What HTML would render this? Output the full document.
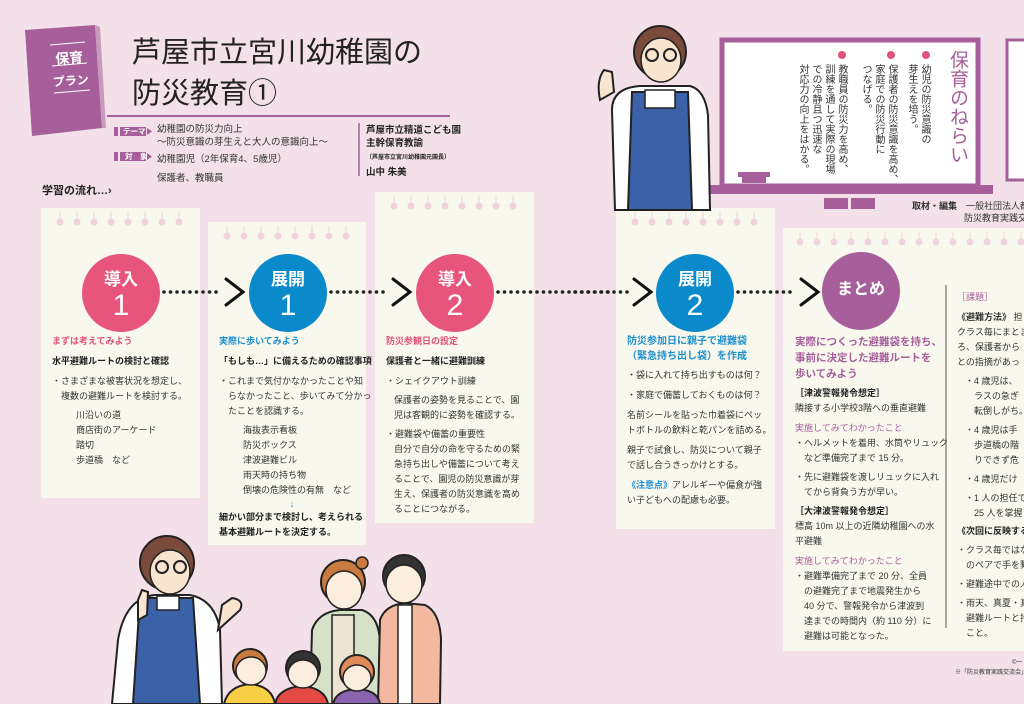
<!DOCTYPE html>
<html><head><meta charset="utf-8">
<style>
*{margin:0;padding:0;box-sizing:border-box}
body{width:1024px;height:704px;overflow:hidden;background:#f3e0e8;font-family:"Liberation Sans","Noto Sans CJK JP",sans-serif;color:#222;position:relative}
.a{position:absolute}
.t{font-size:9px;line-height:15px;color:#333;white-space:nowrap}
.b{font-weight:bold;color:#222}
.pk{color:#e0527a;font-weight:bold}
.bl{color:#1f8fce;font-weight:bold}
.pu{color:#a65f9a;font-weight:bold}
svg{position:absolute;left:0;top:0}
.circ{position:absolute;border-radius:50%;color:#fff;text-align:center}
.circ .l1{font-size:17px;font-weight:bold;margin-top:16px;line-height:20px}
.circ .l2{font-size:30px;line-height:32px;font-weight:300}
.v{writing-mode:vertical-rl;position:absolute;font-size:10px;line-height:13px;color:#333;height:125px;white-space:nowrap}
</style></head><body>
<svg width="1024" height="704" viewBox="0 0 1024 704">
<defs>
<g id="r1"><line x1="60" y1="212" x2="60" y2="220" stroke="#f0d3de"/><circle cx="60" cy="222" r="3.5" fill="#f0d3de"/></g>
<g id="d" fill="#222"><circle cx="0" cy="292" r="1.8"/><circle cx="6.5" cy="292" r="1.8"/><circle cx="13" cy="292" r="1.8"/><circle cx="19.5" cy="292" r="1.8"/><circle cx="26" cy="292" r="1.8"/><circle cx="32.5" cy="292" r="1.8"/><circle cx="39" cy="292" r="1.8"/><circle cx="45.5" cy="292" r="1.8"/><circle cx="52" cy="292" r="1.8"/></g>
</defs>
<polygon points="25,30 95,25 102,128 32,136" fill="#a65f9a"/>
<polygon points="95,25 100,27 106,128 102,128" fill="#c89bbd"/>
<line x1="50" y1="45" x2="85" y2="42" stroke="#fff" stroke-width="1"/>
<line x1="52" y1="66" x2="87" y2="63" stroke="#fff" stroke-width="1"/>
<line x1="54" y1="93" x2="90" y2="90" stroke="#fff" stroke-width="1"/>
<line x1="107" y1="116" x2="450" y2="116" stroke="#a65f9a" stroke-width="2"/>
<rect x="114" y="127" width="4" height="9" fill="#a65f9a"/><rect x="120" y="127" width="26" height="9" fill="#a65f9a"/><polygon points="147,128 152,131.5 147,135" fill="#a65f9a"/>
<rect x="114" y="152" width="4" height="9" fill="#a65f9a"/><rect x="120" y="152" width="26" height="9" fill="#a65f9a"/><polygon points="147,153 152,156.5 147,160" fill="#a65f9a"/>
<line x1="359" y1="123" x2="359" y2="176" stroke="#a65f9a" stroke-width="1.5"/>
<rect x="41" y="208" width="159" height="290" fill="#f9f8ee"/>
<rect x="208" y="222" width="158" height="323" fill="#f9f8ee"/>
<rect x="375" y="192" width="159" height="331" fill="#f9f8ee"/>
<rect x="616" y="208" width="159" height="321" fill="#f9f8ee"/>
<rect x="783" y="228" width="241" height="423" fill="#f9f8ee"/>
<line x1="946" y1="285" x2="946" y2="628" stroke="#555" stroke-width="1"/>
<use href="#r1"/><use href="#r1" x="17"/><use href="#r1" x="34"/><use href="#r1" x="51"/><use href="#r1" x="68"/><use href="#r1" x="85"/><use href="#r1" x="102"/><use href="#r1" x="119"/>
<g transform="translate(167,14)"><use href="#r1"/><use href="#r1" x="17"/><use href="#r1" x="34"/><use href="#r1" x="51"/><use href="#r1" x="68"/><use href="#r1" x="85"/><use href="#r1" x="102"/><use href="#r1" x="119"/></g>
<g transform="translate(334,-16)"><use href="#r1"/><use href="#r1" x="17"/><use href="#r1" x="34"/><use href="#r1" x="51"/><use href="#r1" x="68"/><use href="#r1" x="85"/><use href="#r1" x="102"/><use href="#r1" x="119"/></g>
<g transform="translate(575,0)"><use href="#r1"/><use href="#r1" x="17"/><use href="#r1" x="34"/><use href="#r1" x="51"/><use href="#r1" x="68"/><use href="#r1" x="85"/><use href="#r1" x="102"/><use href="#r1" x="119"/></g>
<g transform="translate(740,20)"><use href="#r1"/><use href="#r1" x="17"/><use href="#r1" x="34"/><use href="#r1" x="51"/><use href="#r1" x="68"/><use href="#r1" x="85"/><use href="#r1" x="102"/><use href="#r1" x="119"/><use href="#r1" x="136"/><use href="#r1" x="153"/><use href="#r1" x="170"/><use href="#r1" x="187"/><use href="#r1" x="204"/><use href="#r1" x="221"/></g>
<use href="#d" x="164"/><use href="#d" x="331"/><use href="#d" x="498"/><use href="#d" x="556"/><use href="#d" x="575"/><use href="#d" x="738"/>
<g fill="none" stroke="#111" stroke-width="3" stroke-linecap="round">
<polyline points="226,279 243,292 226,305"/><polyline points="393,279 410,292 393,305"/><polyline points="634,279 651,292 634,305"/><polyline points="801,279 818,292 801,305"/>
</g>
<rect x="722" y="40" width="256" height="146" fill="#fff" stroke="#a65f9a" stroke-width="5"/>
<rect x="706" y="185" width="287" height="9" fill="#a65f9a"/>
<rect x="824" y="198" width="24" height="11" fill="#a65f9a"/><rect x="851" y="198" width="24" height="11" fill="#a65f9a"/>
<rect x="738" y="172" width="32" height="5" fill="#a65f9a"/><rect x="742" y="175" width="24" height="8" fill="#a65f9a"/>
<rect x="1007" y="40" width="30" height="140" fill="#fff" stroke="#a65f9a" stroke-width="3"/>
<g fill="#e0527a"><circle cx="926" cy="55" r="4"/><circle cx="891" cy="55" r="4"/><circle cx="842" cy="55" r="4"/></g>
<path d="M612,110 Q612,88 640,86 L690,86 Q705,90 708,115 L710,210 L615,210 Z" fill="#fff" stroke="#222" stroke-width="2"/>
<path d="M632,92 L688,92 L692,210 L628,210 Z" fill="#3b62a8" stroke="#222" stroke-width="2"/>
<rect x="645" y="90" width="30" height="18" fill="#fff" stroke="#222" stroke-width="1.5"/>
<path d="M600,100 Q596,80 604,70 L612,72 L614,92 Z" fill="#f9e4d0" stroke="#222" stroke-width="2"/>
<circle cx="660" cy="52" r="26" fill="#7a4a3a" stroke="#222" stroke-width="2"/>
<ellipse cx="661" cy="60" rx="20" ry="22" fill="#f9e4d0" stroke="#222" stroke-width="1.5"/>
<circle cx="652" cy="55" r="6" fill="none" stroke="#222" stroke-width="2"/><circle cx="670" cy="55" r="6" fill="none" stroke="#222" stroke-width="2"/>
<path d="M118,640 Q125,598 155,595 L190,595 Q215,600 220,630 L222,704 L112,704 Z" fill="#fff" stroke="#222" stroke-width="2"/>
<path d="M140,598 L193,598 L200,704 L133,704 Z" fill="#3b62a8" stroke="#222" stroke-width="2"/>
<rect x="157" y="596" width="22" height="14" fill="#fff" stroke="#222" stroke-width="1.5"/>
<path d="M218,630 L240,610 Q245,600 232,598 L222,605 Z" fill="#f9e4d0" stroke="#222" stroke-width="2"/>
<path d="M138,600 L142,590 L148,592 L147,615 L138,620 Z" fill="#f9e4d0" stroke="#222" stroke-width="2"/>
<circle cx="167" cy="563" r="27" fill="#7a4a3a" stroke="#222" stroke-width="2"/>
<ellipse cx="170" cy="572" rx="20" ry="22" fill="#f9e4d0" stroke="#222" stroke-width="1.5"/>
<circle cx="162" cy="567" r="6" fill="none" stroke="#222" stroke-width="2"/><circle cx="180" cy="567" r="6" fill="none" stroke="#222" stroke-width="2"/>
<path d="M310,704 L312,630 Q318,612 340,610 L362,610 Q378,615 380,640 L380,704 Z" fill="#d6e2c8" stroke="#222" stroke-width="2"/>
<rect x="332" y="615" width="22" height="89" fill="#ece3d3" stroke="#222" stroke-width="1.5"/>
<circle cx="343" cy="582" r="22" fill="#c97a3f" stroke="#222" stroke-width="2"/><circle cx="362" cy="563" r="6" fill="#c97a3f" stroke="#222" stroke-width="1.5"/>
<ellipse cx="344" cy="590" rx="18" ry="19" fill="#fbeede" stroke="#222" stroke-width="1.5"/>
<path d="M378,704 L380,620 Q385,605 405,603 L425,605 Q440,612 441,640 L440,704 Z" fill="#f3b9a0" stroke="#222" stroke-width="2"/>
<rect x="398" y="605" width="14" height="99" fill="#fff" stroke="#222" stroke-width="1.5"/>
<circle cx="404" cy="576" r="21" fill="#333" stroke="#222" stroke-width="2"/>
<ellipse cx="404" cy="584" rx="18" ry="19" fill="#fbeede" stroke="#222" stroke-width="1.5"/>
<path d="M224,704 Q228,686 250,684 Q272,686 275,704 Z" fill="#f6cf45" stroke="#222" stroke-width="2"/>
<circle cx="250" cy="666" r="17" fill="#c97a3f" stroke="#222" stroke-width="2"/><ellipse cx="251" cy="671" rx="15" ry="14" fill="#fbeede" stroke="#222" stroke-width="1.5"/>
<path d="M275,704 Q278,688 302,686 Q325,688 328,704 Z" fill="#e34a45" stroke="#222" stroke-width="2"/>
<circle cx="303" cy="668" r="17" fill="#333" stroke="#222" stroke-width="2"/><ellipse cx="303" cy="674" rx="15" ry="14" fill="#fbeede" stroke="#222" stroke-width="1.5"/>
<path d="M333,704 Q336,690 357,689 Q378,690 380,704 Z" fill="#8a62ae" stroke="#222" stroke-width="2"/>
<circle cx="357" cy="672" r="17" fill="#e08a5a" stroke="#222" stroke-width="2"/><ellipse cx="357" cy="678" rx="14" ry="13" fill="#fbeede" stroke="#222" stroke-width="1.5"/>
</svg>

<div class="a" style="left:51px;top:47px;font-size:14px;color:#fff;font-weight:bold;transform:rotate(-4deg);line-height:22px;text-align:center;width:38px">保育<br><span style="font-size:12px">プラン</span></div>
<div class="a" style="left:132px;top:33px;font-size:29px;line-height:41px;color:#222;white-space:nowrap">芦屋市立宮川幼稚園の<br>防災教育①</div>
<div class="a" style="left:123px;top:124px;font-size:7.5px;color:#fff;font-weight:bold;line-height:15px">テーマ</div>
<div class="a" style="left:125px;top:149px;font-size:7.5px;color:#fff;font-weight:bold;line-height:15px">対　象</div>
<div class="a t" style="left:157px;top:123px;font-size:9.5px;line-height:13px">幼稚園の防災力向上<br>～防災意識の芽生えと大人の意識向上～</div>
<div class="a t" style="left:157px;top:150px;font-size:9.5px;line-height:19px">幼稚園児（2年保育4、5歳児）<br>保護者、教職員</div>
<div class="a b" style="left:366px;top:124px;font-size:9.5px;line-height:13px;white-space:nowrap">芦屋市立精道こども園<br>主幹保育教諭<br><span style="font-size:6px;line-height:10px">（芦屋市立宮川幼稚園元園長）</span><br><span style="line-height:19px">山中 朱美</span></div>
<div class="a b" style="left:42px;top:182px;font-size:11px">学習の流れ…›</div>

<div class="v" style="left:946px;top:50px;font-size:19px;line-height:22px;color:#a65f9a;height:135px">保育のねらい</div>
<div class="v" style="left:905px;top:64px;width:26px">幼児の防災意識の<br>芽生えを培う。</div>
<div class="v" style="left:859px;top:64px;width:39px">保護者の防災意識を高め、<br>家庭での防災行動に<br>つなげる。</div>
<div class="v" style="left:796px;top:64px;width:52px">教職員の防災力を高め、<br>訓練を通して実際の現場<br>での冷静且つ迅速な<br>対応力の向上をはかる。</div>
<div class="a t" style="left:912px;top:200px;font-size:9px;line-height:12px"><b>取材・編集</b>　一般社団法人都<br><span style="margin-left:52px">防災教育実践交</span></div>

<div class="circ" style="left:82px;top:254px;width:78px;height:78px;background:#e8557b"><div class="l1">導入</div><div class="l2">1</div></div>
<div class="circ" style="left:249px;top:254px;width:78px;height:78px;background:#0a8acb"><div class="l1">展開</div><div class="l2">1</div></div>
<div class="circ" style="left:416px;top:254px;width:78px;height:78px;background:#e8557b"><div class="l1">導入</div><div class="l2">2</div></div>
<div class="circ" style="left:656px;top:254px;width:78px;height:78px;background:#0a8acb"><div class="l1">展開</div><div class="l2">2</div></div>
<div class="circ" style="left:822px;top:252px;width:78px;height:78px;background:#a65f9a"><div class="l1" style="margin-top:28px;font-size:16px">まとめ</div></div>

<div class="a t" style="left:52px;top:334px;width:146px"><div class="pk">まずは考えてみよう</div><div class="b" style="margin-top:5px">水平避難ルートの検討と確認</div><div style="margin-top:5px">・さまざまな被害状況を想定し、<br>　複数の避難ルートを検討する。</div><div style="margin-left:24px;margin-top:4px">川沿いの道<br>商店街のアーケード<br>踏切<br>歩道橋　など</div></div>

<div class="a t" style="left:219px;top:334px;width:146px"><div class="bl">実際に歩いてみよう</div><div class="b" style="margin-top:5px">「もしも…」に備えるための確認事項</div><div style="margin-top:5px">・これまで気付かなかったことや知<br>　らなかったこと、歩いてみて分かっ<br>　たことを認識する。</div><div style="margin-left:24px;margin-top:4px">海抜表示看板<br>防災ボックス<br>津波避難ビル<br>雨天時の持ち物<br>倒壊の危険性の有無　など</div><div style="text-align:center;color:#1f8fce;line-height:12px">↓</div><div class="b">細かい部分まで検討し、考えられる<br>基本避難ルートを決定する。</div></div>

<div class="a t" style="left:386px;top:334px;width:146px"><div class="pk">防災参観日の設定</div><div class="b" style="margin-top:5px">保護者と一緒に避難訓練</div><div style="margin-top:5px">・シェイクアウト訓練</div><div style="margin-left:8px;margin-top:4px">保護者の姿勢を見ることで、園<br>児は客観的に姿勢を確認する。</div><div style="margin-top:4px">・避難袋や備蓄の重要性</div><div style="margin-left:8px">自分で自分の命を守るための緊<br>急持ち出しや備蓄について考え<br>ることで、園児の防災意識が芽<br>生え、保護者の防災意識を高め<br>ることにつながる。</div></div>

<div class="a t" style="left:627px;top:334px;width:148px"><div class="bl" style="font-size:10px">防災参加日に親子で避難袋<br>（緊急持ち出し袋）を作成</div><div style="margin-top:4px">・袋に入れて持ち出すものは何？</div><div style="margin-top:5px">・家庭で備蓄しておくものは何？</div><div style="margin-top:5px">名前シールを貼った巾着袋にペッ<br>トボトルの飲料と乾パンを詰める。</div><div style="margin-top:5px">親子で試食し、防災について親子<br>で話し合うきっかけとする。</div><div style="margin-top:5px"><span class="bl">《注意点》</span>アレルギーや偏食が強<br>い子どもへの配慮も必要。</div></div>

<div class="a t" style="left:795px;top:334px;width:150px"><div class="pu" style="font-size:10.5px;line-height:16px">実際につくった避難袋を持ち、<br>事前に決定した避難ルートを<br>歩いてみよう</div><div class="b" style="margin-top:4px">［津波警報発令想定］</div><div>隣接する小学校3階への垂直避難</div><div class="pu" style="margin-top:5px;font-weight:normal">実施してみてわかったこと</div><div>・ヘルメットを着用、水筒やリュック<br>　など準備完了まで 15 分。</div><div style="margin-top:4px">・先に避難袋を渡しリュックに入れ<br>　てから背負う方が早い。</div><div class="b" style="margin-top:4px">［大津波警報発令想定］</div><div>標高 10m 以上の近隣幼稚園への水<br>平避難</div><div class="pu" style="margin-top:5px;font-weight:normal">実施してみてわかったこと</div><div>・避難準備完了まで 20 分、全員<br>　の避難完了まで地震発生から<br>　40 分で、警報発令から津波到<br>　達までの時間内（約 110 分）に<br>　避難は可能となった。</div></div>

<div class="a t" style="left:957px;top:290px;width:80px;font-size:9px"><div class="pu" style="font-weight:normal">［課題］</div><div style="margin-top:5px"><b>《避難方法》</b> 担<br>クラス毎にまとま<br>ろ、保護者から<br>との指摘があっ</div><div style="margin-left:8px;margin-top:4px">・4 歳児は、<br>　ラスの急ぎ<br>　転倒しがち。</div><div style="margin-left:8px;margin-top:4px">・4 歳児は手<br>　歩道橋の階<br>　りできず危</div><div style="margin-left:8px;margin-top:4px">・4 歳児だけ</div><div style="margin-left:8px;margin-top:4px">・1 人の担任で<br>　25 人を掌握</div><div class="b" style="margin-top:3px">《次回に反映する</div><div style="margin-top:4px">・クラス毎ではな<br>　のペアで手を繋</div><div style="margin-top:4px">・避難途中での人</div><div style="margin-top:4px">・雨天、真夏・真<br>　避難ルートと持<br>　こと。</div></div>
<div class="a" style="left:955px;top:667px;font-size:6px;color:#333;white-space:nowrap">※「防災教育実践交流会」は、</div>
<div class="a" style="left:1012px;top:657px;font-size:6px;color:#333">©一</div>
</body></html>
